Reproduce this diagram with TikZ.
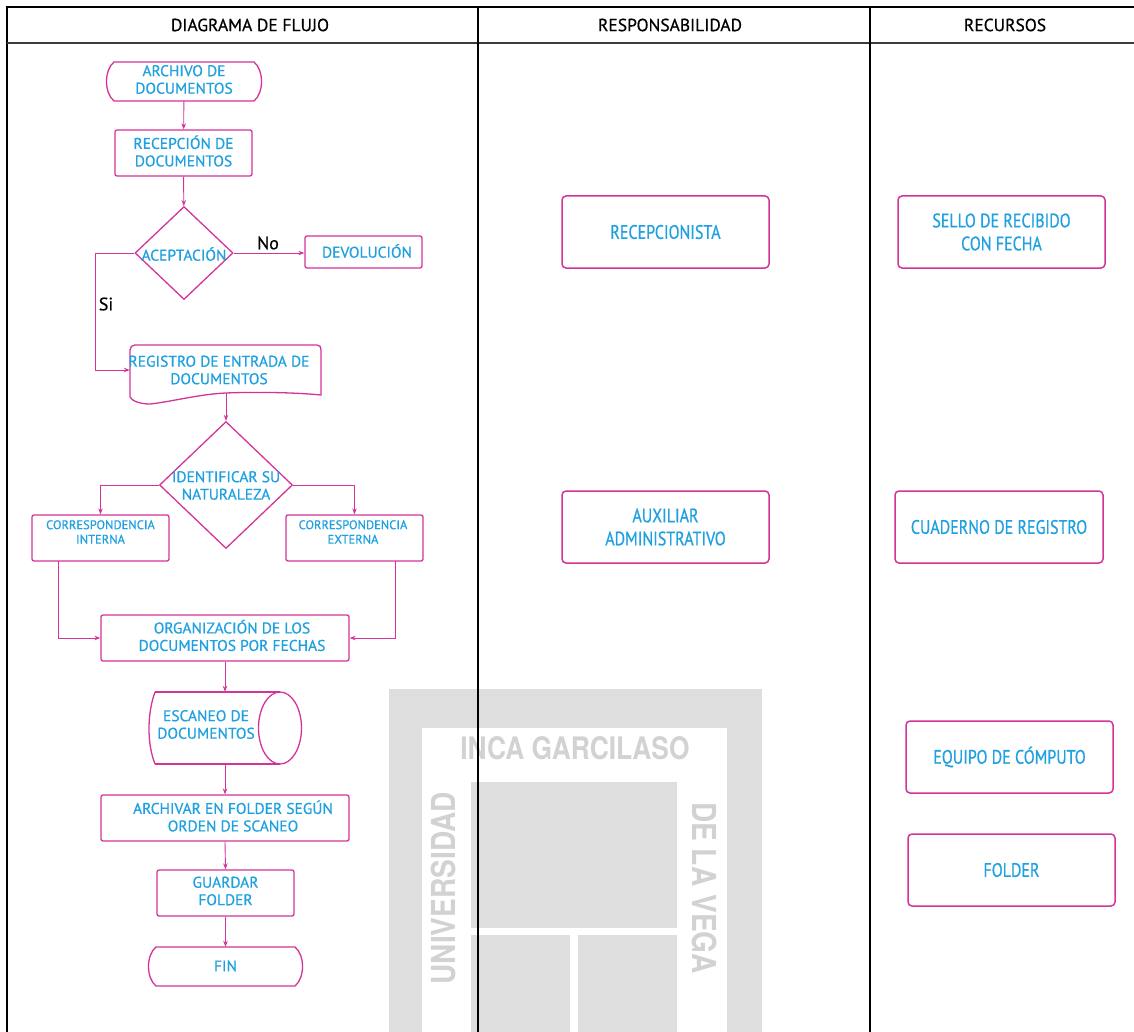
\documentclass[tikz,border=0pt]{standalone}
\usepackage{fontspec}
\setmainfont[FakeBold=0.6]{PT Sans}
\newfontfamily\condfont[FakeStretch=0.82,FakeBold=0.6]{PT Sans}
\newfontfamily\wmfont[FakeStretch=0.85]{TeX Gyre Heros}
\usetikzlibrary{shapes.geometric,arrows.meta}
\definecolor{mag}{RGB}{212,52,152}
\definecolor{cy}{RGB}{30,160,225}
\definecolor{wm}{RGB}{222,222,222}
\definecolor{wmtext}{RGB}{210,210,210}
\definecolor{hdrline}{RGB}{60,60,60}
\begin{document}
\begin{tikzpicture}[x=1pt,y=-1pt,
  shp/.style={draw=mag,line width=1.3pt},
  flowbox/.style={draw=mag,line width=1.3pt,rounded corners=2pt,minimum height=46pt,inner sep=0pt,text=cy,font=\fontsize{15.5}{17.5}\selectfont,align=center},
  ghost/.style={draw=none,inner sep=0pt},
  flowtext/.style={text=cy,font=\fontsize{15.5}{17.5}\selectfont,align=center,inner sep=0pt},
  smalltext/.style={text=cy,font=\fontsize{12.5}{14.5}\selectfont,align=center,inner sep=0pt},
  resbox/.style={draw=mag,line width=1.5pt,rounded corners=4pt,minimum width=207pt,minimum height=72pt,inner sep=0pt,text=cy,font=\condfont\fontsize{19.5}{23}\selectfont,align=center},
  dia/.style={diamond,draw=mag,line width=1.3pt,inner sep=0pt},
  conn/.style={draw=mag,line width=0.9pt,-{Stealth[length=6pt,width=4.5pt]}},
  hdr/.style={font=\fontsize{17.5}{20}\selectfont,text=black,inner sep=0pt},
  lbl/.style={font=\fontsize{18}{20}\selectfont,text=black,inner sep=0pt}
]
\useasboundingbox (0,0) rectangle (1134,1032);
\fill[white] (0,0) rectangle (1134,1032);

% ---------- watermark (faint) ----------
\fill[wm] (389,689) rectangle (762,1032);
\fill[white] (422,728) rectangle (727,1032);
\fill[wm] (471,782) rectangle (677,928);
\fill[wm] (471,935) rectangle (570,1032);
\fill[wm] (578,935) rectangle (677,1032);
\node[text=wmtext,font=\wmfont\bfseries\fontsize{31}{32}\selectfont,inner sep=0pt] (wmA) at (575,748) {INCA GARCILASO};
\node[text=wmtext,font=\wmfont\bfseries\fontsize{33}{34}\selectfont,inner sep=0pt,rotate=90,anchor=east] (wmB) at (443,792) {UNIVERSIDAD};
\node[text=wmtext,font=\wmfont\bfseries\fontsize{33}{34}\selectfont,inner sep=0pt,rotate=-90,anchor=west] (wmC) at (705,802) {DE LA VEGA};

% ---------- table ----------
\draw[black,line width=2.6pt] (7,1040) -- (7,7) -- (1140,7);
\draw[hdrline,line width=2.4pt] (7,43) -- (1140,43);
\draw[black,line width=1.8pt] (478,7) -- (478,1040);
\draw[black,line width=1.8pt] (870,7) -- (870,1040);
\node[hdr] (h1) at (250,25) {DIAGRAMA DE FLUJO};
\node[hdr] (h2) at (670,25) {RESPONSABILIDAD};
\node[hdr] (h3) at (1005,25) {RECURSOS};

% ---------- flow chart ----------
% start terminator
\draw[shp] (114,62) -- (254,62) .. controls (264,70) and (264,93) .. (254,101) -- (114,101) .. controls (104,93) and (104,70) .. (114,62) -- cycle;
\node[ghost,minimum width=156pt,minimum height=39pt] (arch) at (184,81.5) {};
\node[flowtext] (archt) at (184,79.5) {ARCHIVO DE\\DOCUMENTOS};

\node[flowbox,minimum width=137pt] (recep) at (183.5,153) {};
\node[flowtext] (recept) at (183.5,151) {RECEPCIÓN DE\\DOCUMENTOS};

\node[dia,minimum width=98pt,minimum height=93pt] (acep) at (184,253) {};
\node[flowtext] (acept) at (184,254) {ACEPTACIÓN};

\node[flowbox,minimum width=117pt,minimum height=32pt] (devol) at (363.5,252) {};
\node[flowtext] (devolt) at (367,251) {DEVOLUCIÓN};

% document shape
\draw[shp] (130,350) .. controls (130,347) and (132,345) .. (135,345) -- (317,345) .. controls (320,345) and (321,347) .. (321,350) -- (321,395)
  .. controls (290,392) and (250,392) .. (226,393) .. controls (200,394) and (170,402) .. (150,404) .. controls (140,404) and (132,401) .. (130,397) -- cycle;
\node[ghost,minimum width=191pt,minimum height=50pt] (reg) at (225.5,370) {};
\node[flowtext] (regt) at (219,370) {REGISTRO DE ENTRADA DE\\DOCUMENTOS};
\coordinate (regout) at (226,393);

\node[dia,minimum width=133pt,minimum height=127pt] (ident) at (226,485) {};
\node[flowtext] (identt) at (226,485.5) {IDENTIFICAR SU\\NATURALEZA};

\node[flowbox,minimum width=137pt] (interna) at (100.5,538) {};
\node[smalltext] (internat) at (100.5,532) {CORRESPONDENCIA\\INTERNA};
\node[flowbox,minimum width=137pt] (externa) at (354.5,538) {};
\node[smalltext] (externat) at (353,532) {CORRESPONDENCIA\\EXTERNA};
\coordinate (intout) at (58,561);
\coordinate (extout) at (395,561);

\node[flowbox,minimum width=248pt] (organiz) at (225,638) {};
\node[flowtext] (organizt) at (232,635.5) {ORGANIZACIÓN DE LOS\\DOCUMENTOS POR FECHAS};

% cylinder
\draw[shp] (155,692) -- (280,692) (155,764) -- (280,764);
\draw[shp] (155,692) .. controls (147,714) and (147,744) .. (155,764);
\draw[shp] (280,728) ellipse [x radius=21.5, y radius=36];
\node[ghost,minimum width=154pt,minimum height=72pt] (esc) at (225,728) {};
\node[flowtext] (esct) at (206,724.5) {ESCANEO DE\\DOCUMENTOS};

\node[flowbox,minimum width=248pt] (archiv) at (225,818) {};
\node[flowtext] (archivt) at (233,816) {ARCHIVAR EN FOLDER SEGÚN\\ORDEN DE SCANEO};

\node[flowbox,minimum width=137pt] (guard) at (225.5,893) {};
\node[flowtext] (guardt) at (225.5,891) {GUARDAR\\FOLDER};

% end terminator
\draw[shp] (156,947) -- (295,947) .. controls (305,955) and (305,978) .. (295,986) -- (156,986) .. controls (146,978) and (146,955) .. (156,947) -- cycle;
\node[ghost,minimum width=155pt,minimum height=39pt] (fin) at (225.5,966.5) {};
\node[flowtext] (fint) at (225.5,966) {FIN};

% connectors
\draw[conn] (arch) -- (recep);
\draw[conn] (recep) -- (acep);
\draw[conn] (acep.east) -- (devol.west |- acep.east);
\node[lbl] (no) at (268,243) {No};
\coordinate (siturn) at (95,253);
\draw[conn] (acep.west) -- (siturn) |- (reg.west);
\node[lbl] (si) at (106,304) {Si};
\draw[conn] (regout) -- (ident.north);
\draw[conn] (ident.west) -| (interna.north);
\draw[conn] (ident.east) -| (externa.north);
\draw[conn] (intout) |- (organiz.west);
\draw[conn] (extout) |- (organiz.east);
\draw[conn] (organiz.south -| esc.north) -- (esc.north);
\draw[conn] (esc.south) -- (archiv.north);
\draw[conn] (archiv.south) -- (guard.north);
\draw[conn] (guard.south) -- (fin.north);

% ---------- responsibility & resources ----------
\node[resbox] (recepc) at (665.5,232) {RECEPCIONISTA};
\node[resbox] (sello) at (1001.5,232) {SELLO DE RECIBIDO\\CON FECHA};
\node[resbox] (aux) at (665.5,527) {AUXILIAR\\ADMINISTRATIVO};
\node[resbox,minimum width=208pt] (cuad) at (999,527) {CUADERNO DE REGISTRO};
\node[resbox] (equipo) at (1009.5,757) {EQUIPO DE CÓMPUTO};
\node[resbox] (folder) at (1011.5,870) {FOLDER};
\end{tikzpicture}
\end{document}
